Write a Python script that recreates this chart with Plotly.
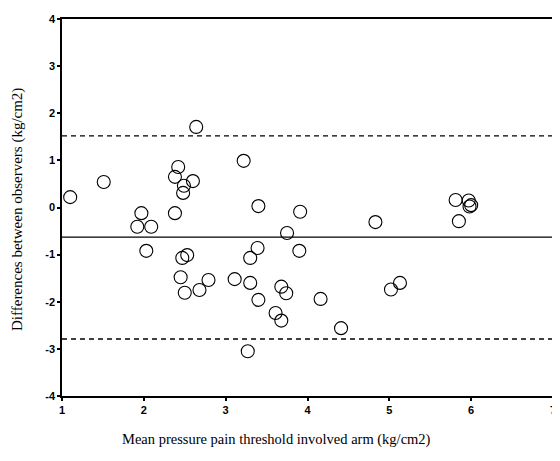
import plotly.graph_objects as go

mean_x = [1.10, 1.51, 1.97, 1.92, 2.09, 2.03, 2.38, 2.42, 2.38, 2.60, 2.49, 2.48,
          2.64, 3.22, 3.40, 3.75, 3.91, 3.90, 3.39, 3.30, 2.53, 2.47, 2.45, 2.50,
          2.68, 2.79, 3.11, 3.30, 3.40, 3.68, 3.74, 3.61, 3.68, 3.27, 4.16, 4.41,
          5.02, 5.13, 4.83, 5.81, 5.97, 6.00, 5.98, 5.85]
diff_y = [0.22, 0.54, -0.12, -0.41, -0.41, -0.92, -0.12, 0.86, 0.65, 0.56, 0.46, 0.31,
          1.71, 0.99, 0.03, -0.54, -0.09, -0.92, -0.86, -1.07, -1.01, -1.07, -1.48, -1.81,
          -1.75, -1.54, -1.52, -1.60, -1.96, -1.68, -1.82, -2.24, -2.40, -3.05, -1.94, -2.56,
          -1.74, -1.60, -0.31, 0.16, 0.15, 0.05, 0.02, -0.29]

mean_diff = -0.63
upper_loa = 1.52
lower_loa = -2.79

x_ticks = [1, 2, 3, 4, 5, 6, 7]
y_ticks = [-4, -3, -2, -1, 0, 1, 2, 3, 4]

# page body has an 8px margin: size the figure so the plot lands where the reference has it
OFF = 8
W, H = 560 - OFF, 461 - OFF
L, T = 62 - OFF, 19 - OFF
PLOT_R, PLOT_B = 553 - OFF, 396 - OFF
R, B = W - PLOT_R, H - PLOT_B
PW, PH = PLOT_R - L, PLOT_B - T

fig = go.Figure()
fig.add_trace(go.Scatter(
    x=mean_x, y=diff_y, mode="markers",
    marker=dict(symbol="circle-open", size=13, color="black", line=dict(width=1.1)),
    showlegend=False, hoverinfo="skip"))

for val, dash in [(upper_loa, "5px,4px"), (mean_diff, "solid"), (lower_loa, "5px,4px")]:
    fig.add_shape(type="line", xref="paper", x0=0, x1=1, yref="y", y0=val, y1=val,
                  line=dict(color="black", width=1.3, dash=dash))

fig.add_annotation(text="Mean pressure pain threshold involved arm (kg/cm2)",
                   xref="paper", yref="paper",
                   x=(276 - OFF - L) / PW, y=-(440 - OFF - PLOT_B) / PH,
                   showarrow=False, xanchor="center", yanchor="middle",
                   font=dict(family="Liberation Serif", size=14.5, color="black"))
fig.add_annotation(text="Differences between observers (kg/cm2)",
                   xref="paper", yref="paper",
                   x=-(L - (18 - OFF)) / PW, y=(PLOT_B - (210 - OFF)) / PH,
                   showarrow=False, textangle=-90, xanchor="center", yanchor="middle",
                   font=dict(family="Liberation Serif", size=15, color="black"))

axis_common = dict(showgrid=False, zeroline=False, showline=True, linecolor="black",
                   linewidth=1.5, mirror=True, ticks="outside", ticklen=3, tickwidth=2,
                   tickcolor="black", automargin=False,
                   tickfont=dict(family="Liberation Sans", size=11, color="black",
                                 weight="bold"))
fig.update_xaxes(range=[1, 7], tickvals=x_ticks, ticktext=[str(t) for t in x_ticks],
                 **axis_common)
fig.update_yaxes(range=[-4, 4], tickvals=y_ticks, ticktext=[str(t) for t in y_ticks],
                 **axis_common)

fig.update_layout(width=W, height=H, margin=dict(l=L, r=R, t=T, b=B),
                  paper_bgcolor="white", plot_bgcolor="white", showlegend=False)

fig.write_html("out.html")
